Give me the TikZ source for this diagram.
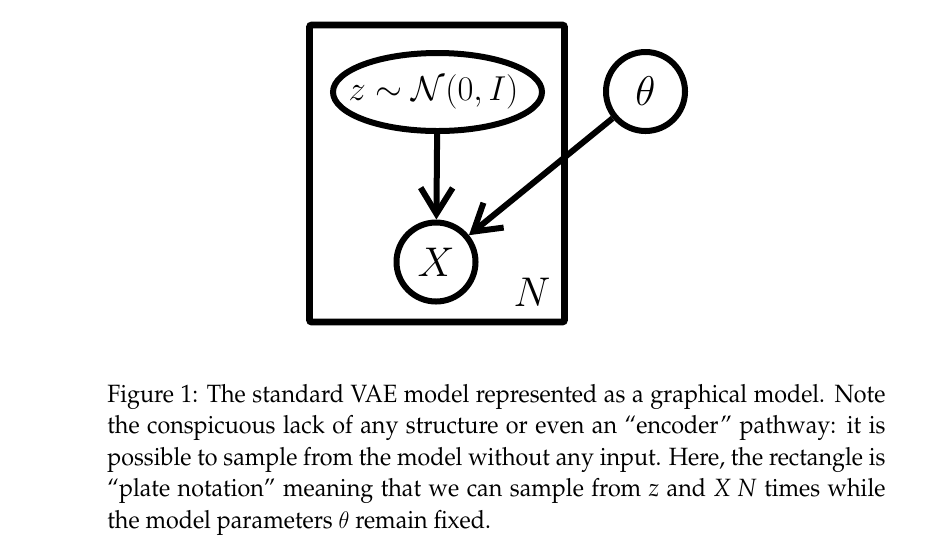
\documentclass[tikz,border=0pt]{standalone}
\usepackage[T1]{fontenc}
\usepackage{graphicx}
\usetikzlibrary{shapes.geometric,arrows.meta}

\newcommand{\capfont}{\fontfamily{ppl}\fontsize{12.5}{15.8}\selectfont}
% caption lines, kept apart so the widest one can be measured
\newcommand{\capA}{Figure 1: The standard VAE model represented as a graphical model. Note}
\newcommand{\capB}{the conspicuous lack of any structure or even an ``encoder'' pathway: it is}
\newcommand{\capC}{possible to sample from the model without any input. Here, the rectangle is}
\newcommand{\capD}{``plate notation'' meaning that we can sample from \textit{z} and \textit{X N} times while}
\newcommand{\capE}{the model parameters $\theta$ remain fixed.}
\newlength{\capw}
\newlength{\tmpw}
\newcommand{\fitline}[1]{\settowidth{\tmpw}{\capfont #1}\ifdim\tmpw>\capw\setlength{\capw}{\tmpw}\fi}
\fitline{\capA}\fitline{\capB}\fitline{\capC}\fitline{\capD}

\tikzset{
	pgmnode/.style={draw, line width=3pt, inner sep=0pt, font=\fontsize{20}{24}\selectfont},
	latent/.style={pgmnode, circle, minimum size=39.5pt},
	edge/.style={line width=3pt, -{Straight Barb[length=13pt, width=16pt]}}
}

\begin{document}
\begin{tikzpicture}[x=0.5pt, y=-0.5pt]
	\useasboundingbox (0, 0) rectangle (935, 554);
	% plate
	\draw[line width=3.3pt, rounded corners=1pt] (309.5, 25) rectangle (564.5, 322);
	\node[font=\fontsize{20}{24}\selectfont] (nlabel) at (532, 292.5) {$N$};
	% nodes
	\node[pgmnode, ellipse, minimum width=104.5pt, minimum height=39pt] (z) at (437.5, 92) {};
	\node[font=\fontsize{19}{23}\selectfont, xshift=-2pt] (zlabel) at (z) {$z\sim\mathcal{N}(0,I)$};
	\node[latent] (theta) at (645.5, 91.5) {$\theta$};
	\node[latent] (x) at (436, 262) {$X$};
	% edges
	\draw[edge] (z) -- (x);
	\draw[edge] (theta) -- (x);
	% caption
	\node[anchor=base west, inner sep=0pt] (caption) at (107, 402) {\resizebox{389pt}{\height}{\parbox[t]{\capw}{\capfont\hyphenpenalty=10000\hbadness=10000
		\capA\linebreak\capB\linebreak\capC\linebreak\capD\linebreak\capE}}};
\end{tikzpicture}
\end{document}
